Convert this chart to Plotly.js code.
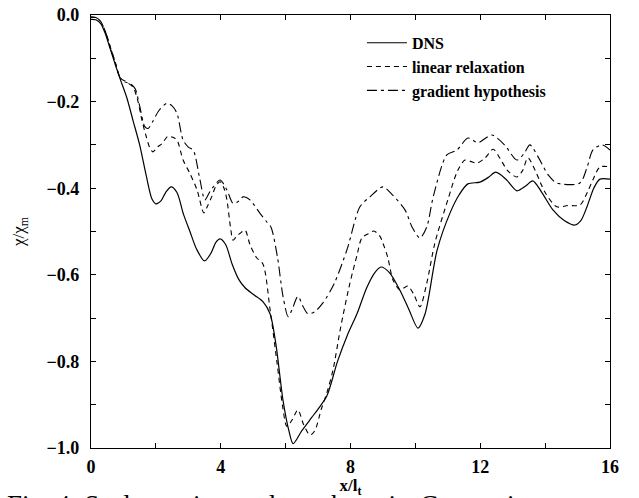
<!DOCTYPE html>
<html><head><meta charset="utf-8">
<script src="https://cdn.plot.ly/plotly-3.0.1.min.js"></script>
<style>html,body{margin:0;padding:0;background:#fff;}</style>
</head><body>
<div id="chart" style="width:639px;height:498px;"></div>
<script>
// DNS (solid)
const dnsX = [0,0.15,0.3,0.45,0.6,0.75,0.9,1.1,1.3,1.5,1.7,1.88,2.0,2.15,2.3,2.47,2.65,2.85,3.05,3.25,3.5,3.7,3.85,3.98,4.15,4.35,4.55,4.75,5.0,5.3,5.52,5.7,5.92,6.1,6.23,6.5,6.8,7.0,7.27,7.6,7.9,8.2,8.5,8.75,8.94,9.2,9.52,9.8,10.08,10.3,10.67,11.07,11.35,11.62,11.99,12.25,12.48,12.8,13.13,13.4,13.62,13.9,14.24,14.6,14.92,15.1,15.29,15.5,15.69,16];
const dnsY = [-0.01,-0.011,-0.02,-0.045,-0.08,-0.115,-0.148,-0.19,-0.245,-0.3,-0.37,-0.425,-0.436,-0.43,-0.41,-0.397,-0.41,-0.46,-0.5,-0.54,-0.568,-0.55,-0.525,-0.517,-0.53,-0.575,-0.61,-0.63,-0.645,-0.662,-0.69,-0.76,-0.89,-0.96,-0.99,-0.96,-0.93,-0.91,-0.88,-0.8,-0.74,-0.69,-0.63,-0.595,-0.582,-0.595,-0.635,-0.68,-0.723,-0.69,-0.543,-0.457,-0.415,-0.39,-0.386,-0.375,-0.363,-0.38,-0.406,-0.395,-0.383,-0.41,-0.45,-0.475,-0.485,-0.475,-0.443,-0.4,-0.379,-0.379];

// linear relaxation (dashed)
const linX = [0,0.15,0.3,0.45,0.6,0.75,0.9,1.1,1.3,1.45,1.57,1.7,1.82,1.91,2.05,2.19,2.37,2.5,2.65,2.84,3.05,3.27,3.48,3.6,3.72,3.85,3.98,4.1,4.19,4.3,4.38,4.5,4.6,4.75,4.9,5.1,5.3,5.52,5.73,5.9,6.04,6.2,6.38,6.55,6.75,6.9,7.1,7.27,7.46,7.7,7.98,8.2,8.35,8.55,8.72,8.9,9.0,9.15,9.31,9.52,9.65,9.77,9.95,10.14,10.35,10.6,11.0,11.3,11.53,11.7,11.9,12.15,12.4,12.6,12.85,13.13,13.3,13.47,13.7,14.0,14.36,14.7,15.07,15.3,15.47,15.69,16];
const linY = [-0.005,-0.006,-0.015,-0.04,-0.075,-0.11,-0.145,-0.155,-0.167,-0.2,-0.243,-0.28,-0.308,-0.316,-0.305,-0.297,-0.28,-0.282,-0.289,-0.335,-0.366,-0.404,-0.457,-0.44,-0.42,-0.395,-0.385,-0.4,-0.427,-0.49,-0.52,-0.51,-0.504,-0.497,-0.53,-0.56,-0.575,-0.68,-0.8,-0.9,-0.95,-0.935,-0.912,-0.945,-0.97,-0.96,-0.91,-0.873,-0.82,-0.72,-0.62,-0.555,-0.515,-0.505,-0.499,-0.51,-0.527,-0.56,-0.612,-0.635,-0.63,-0.626,-0.645,-0.674,-0.62,-0.527,-0.427,-0.36,-0.335,-0.338,-0.342,-0.33,-0.31,-0.33,-0.36,-0.374,-0.36,-0.33,-0.36,-0.41,-0.443,-0.44,-0.439,-0.41,-0.381,-0.351,-0.351];

// gradient hypothesis (dash-dot)
const gradX = [0,0.15,0.3,0.45,0.6,0.75,0.9,1.05,1.2,1.36,1.5,1.66,1.76,1.91,2.1,2.34,2.5,2.65,2.84,3.0,3.15,3.36,3.51,3.65,3.77,3.98,4.19,4.38,4.55,4.69,4.9,5.21,5.42,5.55,5.75,5.92,6.08,6.2,6.38,6.55,6.69,6.9,7.15,7.5,7.9,8.29,8.6,9.0,9.3,9.68,9.9,10.14,10.35,10.55,10.97,11.28,11.62,11.93,12.15,12.36,12.75,13.13,13.35,13.53,13.8,14.1,14.36,15.07,15.3,15.47,15.75,16];
const gradY = [-0.005,-0.006,-0.015,-0.04,-0.075,-0.11,-0.145,-0.155,-0.158,-0.17,-0.21,-0.258,-0.262,-0.245,-0.22,-0.204,-0.21,-0.227,-0.289,-0.305,-0.312,-0.381,-0.427,-0.41,-0.397,-0.381,-0.404,-0.435,-0.43,-0.42,-0.427,-0.458,-0.478,-0.49,-0.56,-0.65,-0.697,-0.68,-0.65,-0.675,-0.69,-0.685,-0.665,-0.62,-0.54,-0.443,-0.42,-0.397,-0.416,-0.45,-0.49,-0.515,-0.49,-0.42,-0.323,-0.312,-0.284,-0.295,-0.285,-0.277,-0.3,-0.335,-0.32,-0.3,-0.33,-0.37,-0.388,-0.388,-0.35,-0.312,-0.3,-0.312];

const seriesNames = ["DNS", "linear relaxation", "gradient hypothesis"];
const xTickVals = [0, 4, 8, 12, 16];
const yTickVals = [0, -0.2, -0.4, -0.6, -0.8, -1.0];
const yTickText = ["0.0", "\u22120.2", "\u22120.4", "\u22120.6", "\u22120.8", "\u22121.0"];

const serif = "Liberation Serif, Times New Roman, serif";

const traces = [
  {x: dnsX, y: dnsY, name: seriesNames[0], mode: "lines",
   line: {color: "#000", width: 1.2, shape: "spline", smoothing: 0.8}},
  {x: linX, y: linY, name: seriesNames[1], mode: "lines",
   line: {color: "#000", width: 1.1, shape: "spline", smoothing: 0.8, dash: "5px,4px"}},
  {x: gradX, y: gradY, name: seriesNames[2], mode: "lines",
   line: {color: "#000", width: 1.1, shape: "spline", smoothing: 0.8, dash: "10px,4px,3px,4px"}}
];

const axisCommon = {
  showgrid: false, zeroline: false, showline: true, linecolor: "#000", linewidth: 1.2,
  mirror: "ticks", ticks: "inside", ticklen: 5, tickwidth: 1, tickcolor: "#000",
  tickfont: {family: serif, size: 18, color: "#000", weight: "bold"}
};

const layout = {
  width: 639, height: 498,
  margin: {l: 91, r: 29, t: 15, b: 50},
  paper_bgcolor: "#fff", plot_bgcolor: "#fff",
  showlegend: true,
  legend: {x: 0.522, y: 0.975, xanchor: "left", yanchor: "top",
    bgcolor: "rgba(0,0,0,0)", borderwidth: 0, itemwidth: 40, tracegroupgap: 0,
    font: {family: serif, size: 16, color: "#000", weight: "bold"}},
  xaxis: Object.assign({}, axisCommon, {
    range: [0, 16], tickvals: xTickVals, ticktext: xTickVals.map(String),
    ticklabelstandoff: 2,
    minor: {dtick: 2, tick0: 0, ticks: "inside", ticklen: 5, tickcolor: "#000", tickwidth: 1},
    title: {text: "x/l<sub>t</sub>", standoff: 6,
      font: {family: serif, size: 17, color: "#000", weight: "bold"}}
  }),
  yaxis: Object.assign({}, axisCommon, {
    range: [-1.0, 0.0], tickvals: yTickVals, ticktext: yTickText,
    ticklabelstandoff: 7,
    minor: {dtick: 0.1, tick0: 0, ticks: "inside", ticklen: 5, tickcolor: "#000", tickwidth: 1},
    title: {text: "\u03c7/\u03c7<sub>m</sub>", standoff: 17,
      font: {family: serif, size: 17, color: "#000"}}
  }),
  annotations: [{
    text: "Fig. 4: Scalar variance along the axis. Comparison",
    xref: "paper", yref: "paper", x: -0.165, y: -0.092,
    xanchor: "left", yanchor: "top", showarrow: false,
    font: {family: serif, size: 27, color: "#000"}
  }]
};

Plotly.newPlot("chart", traces, layout, {displayModeBar: false, staticPlot: true});
</script>
</body></html>
